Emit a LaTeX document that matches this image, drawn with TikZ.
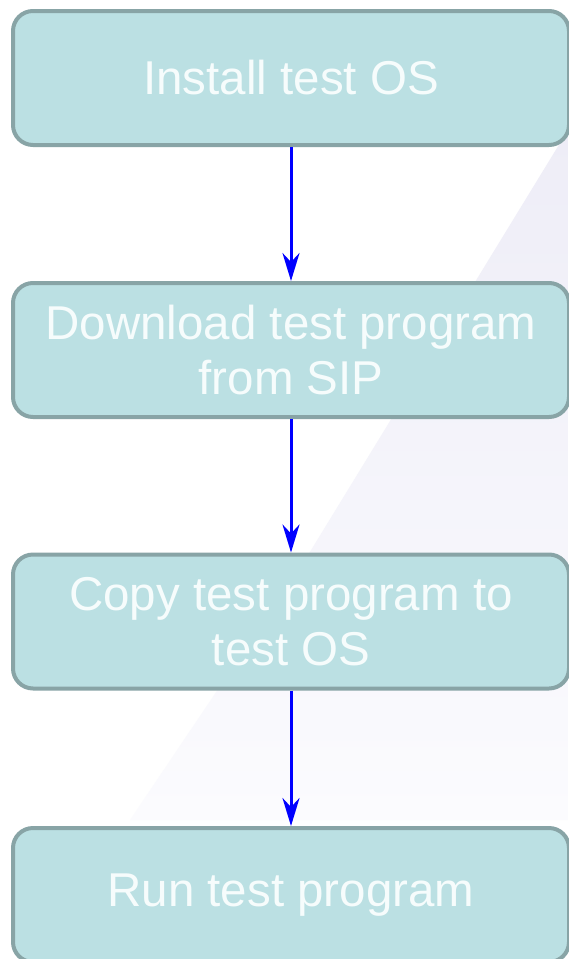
\documentclass[tikz,border=0pt]{standalone}
\usepackage{fontspec}
\setmainfont{Liberation Sans}
\usetikzlibrary{arrows.meta}
\definecolor{boxfill}{RGB}{187,224,227}
\definecolor{boxline}{RGB}{136,164,166}
\definecolor{boxtext}{RGB}{246,252,252}
\definecolor{lavtop}{RGB}{238,237,247}
\definecolor{lavbot}{RGB}{251,251,254}
\tikzset{
  stepbox/.style={draw=boxline, fill=boxfill, line width=4pt, rounded corners=20pt,
    minimum width=556pt, minimum height=134pt, align=center, text=boxtext,
    font=\fontsize{47.5}{55}\selectfont, inner sep=0pt},
  flowarrow/.style={draw={rgb,255:red,0;green,0;blue,255}, line width=3pt,
    -{Stealth[length=28pt,width=17pt,inset=9pt]}}
}
\begin{document}
\begin{tikzpicture}[x=1pt,y=-1pt]
\useasboundingbox (0,0) rectangle (568,959);
\fill[white] (0,0) rectangle (568,959);
\shade[top color=lavtop, bottom color=lavbot] (568,130) -- (305,560) -- (130,820) -- (568,820) -- cycle;
\node[stepbox] (b1) at (291,78) {Install test OS};
\node[stepbox] (b2) at (291,350) {Download test program\\from SIP};
\node[stepbox] (b3) at (291,621.5) {Copy test program to\\test OS};
\node[stepbox] (b4) at (291,895) {Run test program};
\draw[flowarrow] (b1.south) -- (b2.north);
\draw[flowarrow] (b2.south) -- (b3.north);
\draw[flowarrow] (b3.south) -- (b4.north);
\end{tikzpicture}
\end{document}
